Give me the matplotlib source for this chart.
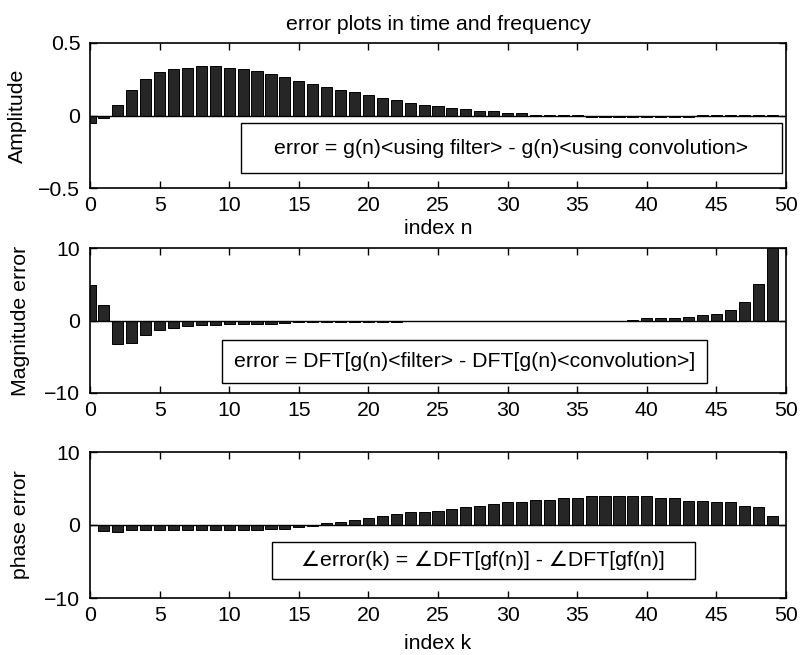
import numpy as np
import matplotlib
matplotlib.use('Agg')
import matplotlib.pyplot as plt
from matplotlib.patches import Rectangle

plt.rcParams['font.family'] = ['Liberation Sans', 'DejaVu Sans']
plt.rcParams['font.size'] = 15.3
plt.rcParams['axes.linewidth'] = 1.2

FS = 15.3

# ================= DATA =================
n = np.arange(50)

amp_err = [-0.05, -0.016, 0.074, 0.178, 0.252, 0.299, 0.319, 0.331, 0.343, 0.343,
           0.331, 0.319, 0.308, 0.287, 0.264, 0.241, 0.218, 0.197, 0.176, 0.162,
           0.141, 0.120, 0.106, 0.086, 0.074, 0.0625, 0.05, 0.042, 0.03, 0.03,
           0.018, 0.018, 0.005, 0.004, 0.004, 0.003,
           -0.012, -0.012, -0.012, -0.012, -0.012, -0.012, -0.012, -0.012,
           0.003, 0.003, 0.003, 0.003, 0.003, 0.003]

mag_err = [4.9, 2.2, -3.3, -3.05, -1.95, -1.3, -1.05, -0.82, -0.68, -0.68,
           -0.46, -0.45, -0.45, -0.45, -0.3, -0.22, -0.2, -0.2, -0.2, -0.2,
           -0.2, -0.2, -0.2, -0.06, -0.05, -0.05, -0.05, -0.05, -0.05, -0.05,
           -0.05, -0.05, -0.05, -0.05, -0.05, -0.05, -0.05, -0.05, -0.05, 0.05,
           0.32, 0.32, 0.32, 0.55, 0.78, 0.91, 1.46, 2.5, 5.1, 12.0]

phase_err = [0, -0.78, -1.0, -0.75, -0.75, -0.75, -0.75, -0.75, -0.75, -0.75,
             -0.75, -0.75, -0.75, -0.55, -0.55, -0.3, -0.1, 0.27, 0.46, 0.68,
             0.91, 1.28, 1.5, 1.74, 1.74, 1.96, 2.19, 2.42, 2.65, 2.88,
             3.1, 3.1, 3.47, 3.47, 3.7, 3.7, 3.93, 3.93, 3.93, 3.93,
             3.93, 3.7, 3.7, 3.33, 3.33, 3.1, 3.1, 2.65, 2.42, 1.28]

# ================= PLOT =================
W, H = 801, 655
fig = plt.figure(figsize=(W / 100, H / 100), dpi=100)

left, width = 90 / W, 696 / W
panels = [
    # data, ylim, ylabel, xlabel, (top px, bottom px), box (x0,x1,y0,y1 axes frac), text
    (amp_err, (-0.5, 0.5), 'Amplitude', 'index n', (43, 188),
     (0.217, 0.994, 0.103, 0.448),
     'error = g(n)<using filter> - g(n)<using convolution>'),
    (mag_err, (-10, 10), 'Magnitude error', None, (248, 393),
     (0.190, 0.886, 0.069, 0.366),
     'error = DFT[g(n)<filter> - DFT[g(n)<convolution>]'),
    (phase_err, (-10, 10), 'phase error', 'index k', (452, 598),
     (0.261, 0.869, 0.130, 0.384),
     '\u2220error(k) = \u2220DFT[gf(n)] - \u2220DFT[gf(n)]'),
]

for i, (vals, ylim, ylab, xlab, (top, bot), box, txt) in enumerate(panels):
    ax = fig.add_axes([left, 1 - bot / H, width, (bot - top) / H])
    ax.bar(n, vals, width=0.8, color='#262626', edgecolor='black', linewidth=0.7, zorder=2)
    ax.axhline(0, color='black', linewidth=1.0, zorder=3)
    ax.set_xlim(0, 50)
    ax.set_ylim(*ylim)
    ax.set_xticks(np.arange(0, 51, 5))
    ax.set_yticks([ylim[0], 0, ylim[1]])
    if ylim[1] < 1:
        ax.set_yticklabels(['\u22120.5', '0', '0.5'])
    else:
        ax.set_yticklabels(['\u221210', '0', '10'])
    ax.tick_params(direction='in', top=True, right=True, length=5, width=1.0,
                   labelsize=FS)
    ax.tick_params(axis='x', pad=6)
    ax.tick_params(axis='y', pad=7)
    ax.set_ylabel(ylab, fontsize=FS, labelpad=8 if i == 0 else 10)
    if xlab:
        ax.set_xlabel(xlab, fontsize=FS, labelpad=3 if i == 0 else 6)
    x0, x1, y0, y1 = box
    ax.add_patch(Rectangle((x0, y0), x1 - x0, y1 - y0, transform=ax.transAxes,
                           facecolor='white', edgecolor='black', linewidth=1.0, zorder=4))
    ax.text((x0 + x1) / 2, (y0 + y1) / 2, txt, transform=ax.transAxes,
            ha='center', va='center', fontsize=FS, zorder=5)
    if i == 0:
        ax.set_title('error plots in time and frequency', fontsize=FS, pad=9)

fig.savefig('out.png', dpi=100)
